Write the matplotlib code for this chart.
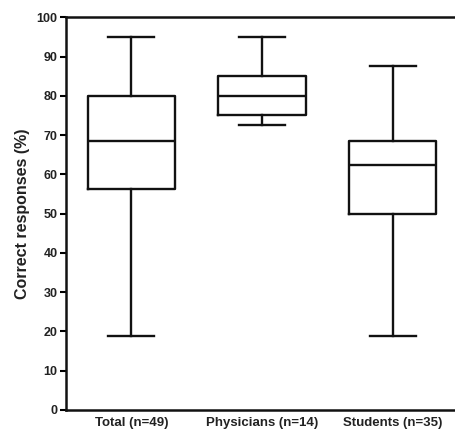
import matplotlib
matplotlib.use("Agg")
import matplotlib.pyplot as plt

groups = ["Total (n=49)", "Physicians (n=14)", "Students (n=35)"]
whis_low = [18.75, 72.5, 18.75]
q1 = [56.25, 75.0, 50.0]
median = [68.5, 80.0, 62.5]
q3 = [80.0, 85.0, 68.5]
whis_high = [95.0, 95.0, 87.5]

plt.rcParams['font.family'] = ['Liberation Sans', 'DejaVu Sans']
plt.rcParams['font.weight'] = 'bold'

fig = plt.figure(figsize=(4.55, 4.33), dpi=100)
ax = fig.add_axes([66 / 455, 1 - 410 / 433, (458 - 66) / 455, (410 - 17.3) / 433])

stats = []
for i in range(len(groups)):
    stats.append(dict(label=groups[i], whislo=whis_low[i], q1=q1[i], med=median[i],
                      q3=q3[i], whishi=whis_high[i], fliers=[]))

lw = 1.7
ax.bxp(stats, positions=[1, 2, 3], widths=0.67, showfliers=False,
       boxprops=dict(color='#111111', linewidth=lw),
       medianprops=dict(color='#111111', linewidth=lw),
       whiskerprops=dict(color='#111111', linewidth=lw),
       capprops=dict(color='#111111', linewidth=lw),
       capwidths=0.35)

ax.set_xlim(0.5, 3.5)
ax.set_ylim(0, 100)
ax.set_yticks(range(0, 101, 10))
ax.tick_params(axis='y', direction='out', length=4, width=1.5, labelsize=9, pad=2,
               labelcolor='#222222')
ax.tick_params(axis='x', length=0, labelsize=9.5, pad=5, labelcolor='#222222')
for s in ['left', 'bottom', 'top']:
    ax.spines[s].set_linewidth(1.8)
    ax.spines[s].set_color('#111111')
ax.spines['right'].set_visible(False)
ax.set_ylabel("Correct responses (%)", fontsize=11.5, fontweight='bold', labelpad=5,
              color='#222222')

fig.savefig("out.png", dpi=100)
